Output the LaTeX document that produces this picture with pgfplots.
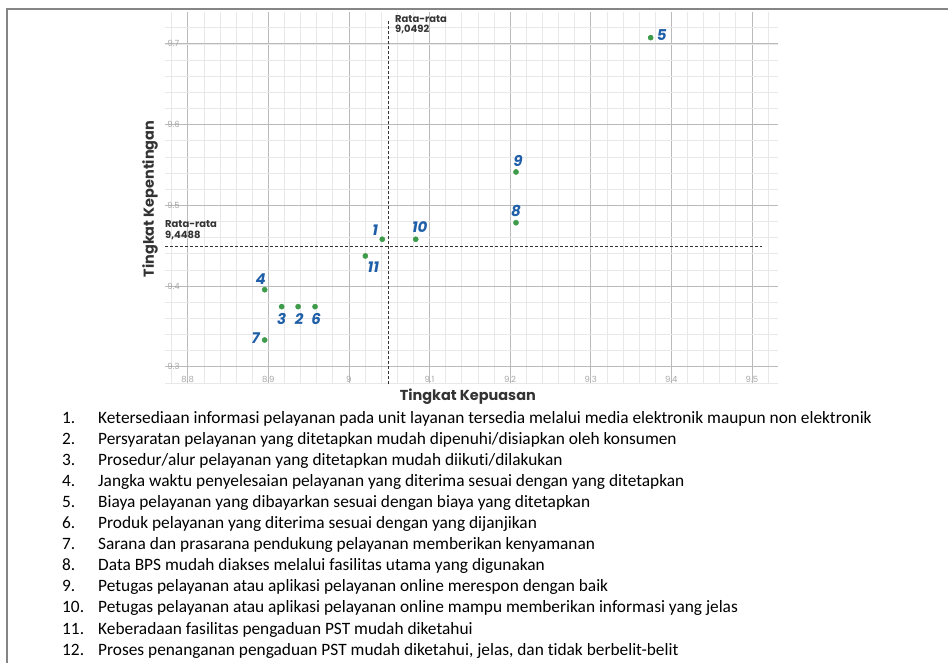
\documentclass[border=0pt]{standalone}
\usepackage{fontspec}
\setmainfont{Carlito}[Ligatures={NoCommon}]
\newfontfamily\pop{Poppins}
\usepackage{pgfplots}
\pgfplotsset{compat=1.18}
\usepackage{pgfplotstable}

\definecolor{ptgreen}{HTML}{3D9B4A}
\definecolor{numblue}{HTML}{1F5FA8}
\definecolor{avgline}{HTML}{333333}
\definecolor{framegray}{HTML}{858585}

% x = kepuasan, y = kepentingan, dx/dy = label offset (bp)
\pgfplotstableread{
x      y      lab dx dy
9.0414 9.4579 1   -7  9
8.9370 9.3744 2    1 -12
8.9166 9.3744 3    0 -12
8.8955 9.3954 4   -4  11
9.3744 9.7077 5   11   3
8.9580 9.3744 6    1 -12
8.8955 9.3331 7   -9   2
9.2073 9.4784 8    0  12
9.2073 9.5413 9    2  11
9.0829 9.4579 10   4  12
9.0204 9.4372 11   8 -11
}\ipadata

\newcommand\li[2]{%
  \node[anchor=base west, inner sep=0, font=\fontsize{17.4}{20}\selectfont]
    at (62bp,{239bp-(#1-1)*21bp}) {#1.};
  \node[anchor=base west, inner sep=0, font=\fontsize{17.4}{20}\selectfont]
    at (98bp,{239bp-(#1-1)*21bp}) {#2};}

\begin{document}
\begin{tikzpicture}
\path[use as bounding box] (0,0) rectangle (948bp,663bp);
\draw[framegray, line width=2.5bp] (7bp,0) -- (7bp,654bp) -- (948bp,654bp);

\begin{axis}[
  at={(165bp,280bp)}, anchor=south west,
  width=613bp, height=371bp, scale only axis,
  xmin=8.77184, xmax=9.53238, ymin=9.2798, ymax=9.7395,
  xtick={8.8,8.9,9.0,9.1,9.2,9.3,9.4,9.5},
  ytick={9.3,9.4,9.5,9.6,9.7},
  minor xtick={8.78,8.80,8.82,8.84,8.86,8.88,8.90,8.92,8.94,8.96,8.98,9.00,9.02,9.04,9.06,9.08,9.10,9.12,9.14,9.16,9.18,9.20,9.22,9.24,9.26,9.28,9.30,9.32,9.34,9.36,9.38,9.40,9.42,9.44,9.46,9.48,9.50,9.52},
  minor ytick={9.28,9.30,9.32,9.34,9.36,9.38,9.40,9.42,9.44,9.46,9.48,9.50,9.52,9.54,9.56,9.58,9.60,9.62,9.64,9.66,9.68,9.70,9.72},
  grid=both,
  major grid style={draw=black!27, line width=0.8bp},
  minor grid style={draw=black!9, line width=0.6bp},
  axis line style={draw=none},
  major tick length=0pt, minor tick length=0pt,
  /pgf/number format/assume math mode=true,
  ticklabel style={font=\pop\fontsize{8.5}{9}\selectfont, text=black!35},
  xticklabel style={anchor=center, yshift=4bp},
  yticklabel style={anchor=center, xshift=8.5bp},
  xlabel={Tingkat Kepuasan},
  ylabel={Tingkat Kepentingan},
  label style={font=\pop\bfseries\fontsize{14.5}{16}\selectfont, text=black!80},
  xlabel style={at={(axis description cs:0.494,0)}, anchor=center, yshift=-14bp},
  ylabel style={at={(axis description cs:0,0.496)}, anchor=center, yshift=15bp},
  clip=false,
]
\addplot[avgline, dash pattern=on 3bp off 2bp, line width=1.1bp]
  coordinates {(9.0492,9.2780) (9.0492,9.7296)};
\addplot[avgline, dash pattern=on 3bp off 2bp, line width=1.1bp]
  coordinates {(8.77184,9.4488) (9.5125,9.4488)};

\node[anchor=north west, inner sep=0, align=left, text=avgline,
  font=\pop\bfseries\fontsize{10}{10.5}\selectfont]
  at (axis cs:9.0572,9.7360) {Rata-rata\\9,0492};
\node[anchor=north west, inner sep=0, align=left, text=avgline,
  font=\pop\bfseries\fontsize{10}{10.5}\selectfont]
  at (axis cs:8.77184,9.4813) {Rata-rata\\9,4488};

\addplot[only marks, mark=*, mark size=2.6bp, color=ptgreen,
  nodes near coords, point meta=explicit symbolic,
  visualization depends on={\thisrow{dx}\as\dx},
  visualization depends on={\thisrow{dy}\as\dy},
  every node near coord/.style={anchor=center, inner sep=0,
    xshift=\dx bp, yshift=\dy bp, text=numblue,
    font=\pop\bfseries\itshape\fontsize{15}{16}\selectfont}]
  table[x=x, y=y, meta=lab] {\ipadata};
\end{axis}

\li{1}{Ketersediaan informasi pelayanan pada unit layanan tersedia melalui media elektronik maupun non elektronik}
\li{2}{Persyaratan pelayanan yang ditetapkan mudah dipenuhi/disiapkan oleh konsumen}
\li{3}{Prosedur/alur pelayanan yang ditetapkan mudah diikuti/dilakukan}
\li{4}{Jangka waktu penyelesaian pelayanan yang diterima sesuai dengan yang ditetapkan}
\li{5}{Biaya pelayanan yang dibayarkan sesuai dengan biaya yang ditetapkan}
\li{6}{Produk pelayanan yang diterima sesuai dengan yang dijanjikan}
\li{7}{Sarana dan prasarana pendukung pelayanan memberikan kenyamanan}
\li{8}{Data BPS mudah diakses melalui fasilitas utama yang digunakan}
\li{9}{Petugas pelayanan atau aplikasi pelayanan online merespon dengan baik}
\li{10}{Petugas pelayanan atau aplikasi pelayanan online mampu memberikan informasi yang jelas}
\li{11}{Keberadaan fasilitas pengaduan PST mudah diketahui}
\li{12}{Proses penanganan pengaduan PST mudah diketahui, jelas, dan tidak berbelit-belit}
\end{tikzpicture}
\end{document}
